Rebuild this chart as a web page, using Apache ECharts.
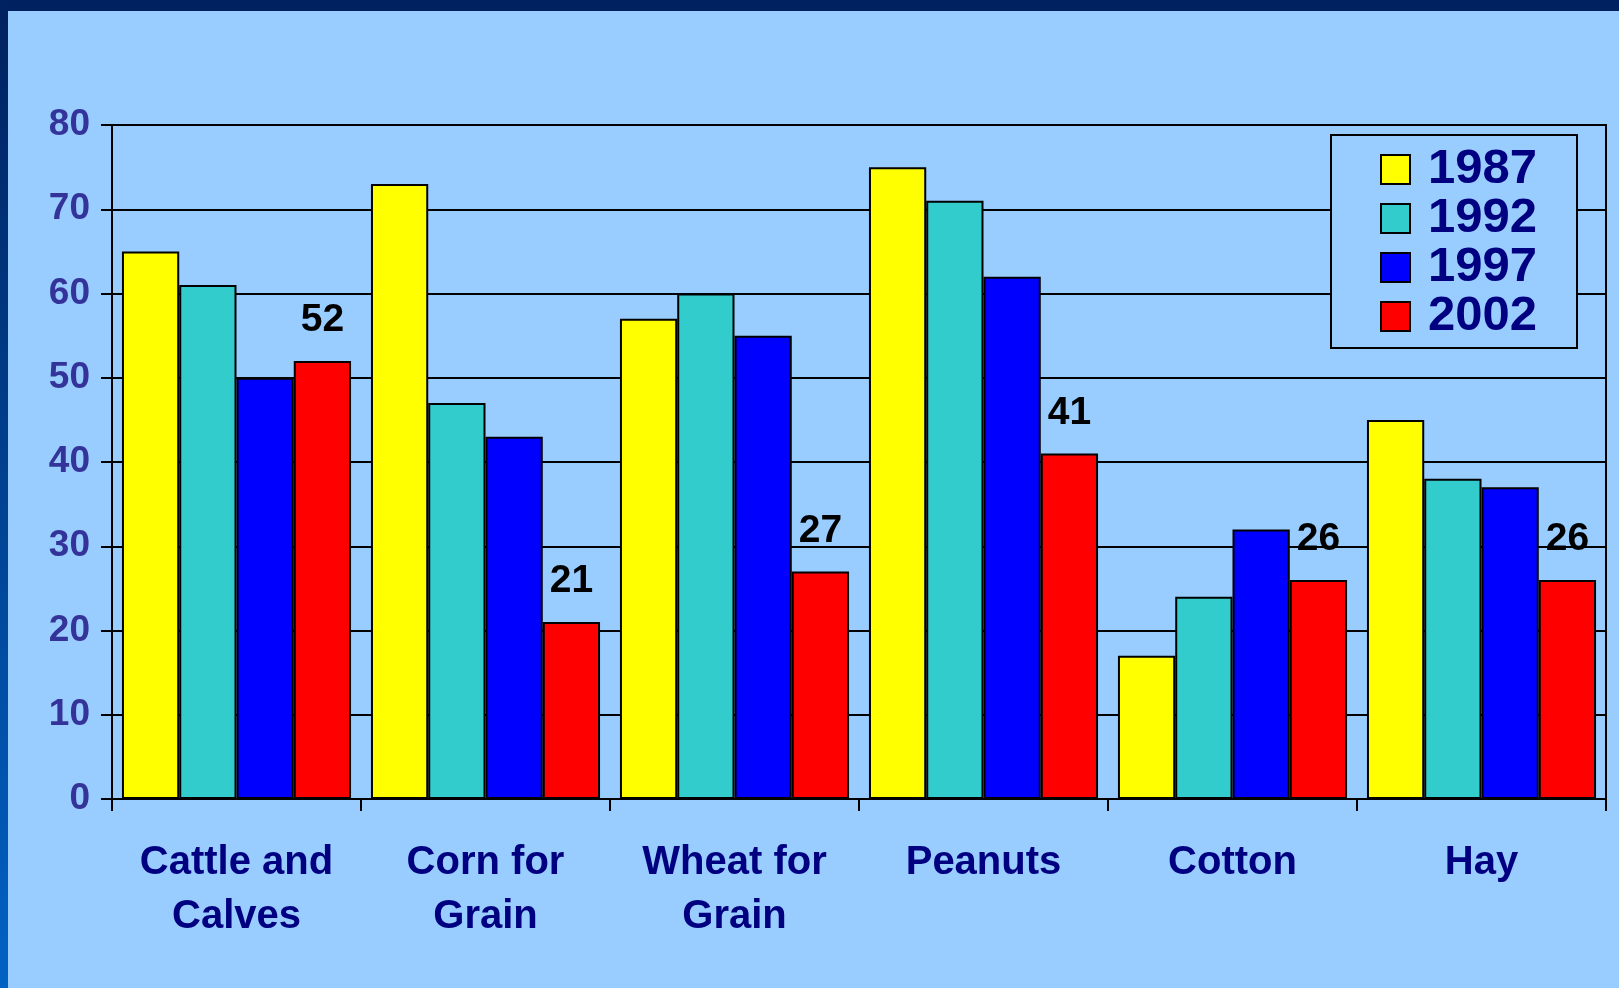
<!DOCTYPE html>
<html>
<head>
<meta charset="utf-8">
<script src="https://cdn.jsdelivr.net/npm/echarts@6/dist/echarts.min.js"></script>
<style>
html,body{margin:0;padding:0;background:#99ccff;}
#chart{width:1619px;height:988px;}
</style>
</head>
<body>
<div id="chart"></div>
<script>
const categories = ['Cattle and\nCalves', 'Corn for\nGrain', 'Wheat for\nGrain', 'Peanuts', 'Cotton', 'Hay'];
const seriesNames = ['1987', '1992', '1997', '2002'];
const v1987 = [65, 73, 57, 75, 17, 45];
const v1992 = [61, 47, 60, 71, 24, 38];
const v1997 = [50, 43, 55, 62, 32, 37];
const v2002 = [52, 21, 27, 41, 26, 26];
const yTicks = [0, 10, 20, 30, 40, 50, 60, 70, 80];
const colors = ['#ffff00', '#33cccc', '#0000ff', '#ff0000'];
const values = [v1987, v1992, v1997, v2002];

const chart = echarts.init(document.getElementById('chart'), null, {renderer: 'canvas'});
const FONT = '"Liberation Sans", Arial, sans-serif';

const series = seriesNames.map((name, i) => ({
  name: name,
  type: 'bar',
  data: values[i],
  barGap: '0%',
  barCategoryGap: '8%',
  itemStyle: {color: colors[i], borderColor: '#000', borderWidth: 2},
  label: i === 3 ? {
    show: true, position: 'top', distance: 21,
    color: '#000', fontFamily: FONT, fontWeight: 'bold', fontSize: 39
  } : {show: false},
  emphasis: {disabled: true},
  animation: false
}));

chart.setOption({
  animation: false,
  backgroundColor: '#99ccff',
  textStyle: {fontFamily: FONT},
  graphic: [
    {type: 'rect', left: 0, top: 0, shape: {width: 1619, height: 11}, style: {fill: '#00215f'}, z: 100},
    {type: 'rect', left: 0, top: 0, shape: {width: 8, height: 988},
     style: {fill: new echarts.graphic.LinearGradient(0, 0, 0, 1, [
       {offset: 0, color: '#00215f'}, {offset: 1, color: '#0062c4'}])}, z: 100}
  ],
  grid: {left: 112, top: 125, right: 13, bottom: 189, show: true, borderColor: '#000', borderWidth: 2, backgroundColor: 'transparent'},
  legend: {
    orient: 'vertical',
    left: 1331, top: 135,
    data: seriesNames,
    backgroundColor: '#99ccff',
    borderColor: '#000', borderWidth: 2,
    padding: [10, 40, 7, 49],
    itemWidth: 29, itemHeight: 29, itemGap: 0,
    icon: 'rect',
    textStyle: {color: '#000080', fontFamily: FONT, fontWeight: 'bold', fontSize: 49, lineHeight: 49, padding: [0, 0, 0, 13]},
    selectedMode: false
  },
  xAxis: {
    type: 'category',
    data: categories,
    axisLine: {lineStyle: {color: '#000', width: 2}},
    axisTick: {show: true, length: 12, lineStyle: {color: '#000', width: 2}},
    axisLabel: {color: '#000080', fontFamily: FONT, fontWeight: 'bold', fontSize: 40, lineHeight: 54, margin: 37, interval: 0}
  },
  yAxis: {
    type: 'value',
    min: 0, max: 80, interval: 10,
    axisLine: {show: true, lineStyle: {color: '#000', width: 2}},
    axisTick: {show: true, length: 11, lineStyle: {color: '#000', width: 2}},
    splitLine: {show: true, lineStyle: {color: '#000', width: 2}},
    axisLabel: {color: '#333399', fontFamily: FONT, fontWeight: 'bold', fontSize: 37, margin: 22,
      formatter: v => yTicks.includes(v) ? String(v) : ''}
  },
  series: series
});
</script>
</body>
</html>
